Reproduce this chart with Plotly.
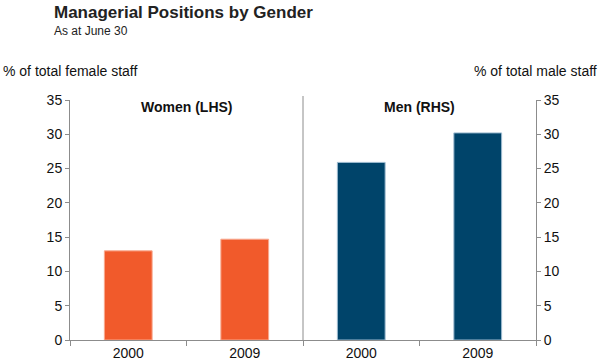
import plotly.graph_objects as go

positions = [0, 1, 2, 3]
tick_labels = ["2000", "2009", "2000", "2009"]
women_x = [0, 1]
women_values = [13.0, 14.7]
men_x = [2, 3]
men_values = [25.9, 30.2]
y_ticks = [0, 5, 10, 15, 20, 25, 30, 35]

FONT = "Liberation Sans, Arial, sans-serif"
ORANGE = "#F15A2B"
NAVY = "#00446A"
GREY = "#8c8c8c"

fig = go.Figure()
fig.add_trace(go.Bar(x=women_x, y=women_values, marker=dict(color=ORANGE, line=dict(color="#F8A88E", width=1)),
                     width=0.41, yaxis="y", showlegend=False, hoverinfo="skip"))
fig.add_trace(go.Bar(x=men_x, y=men_values, marker=dict(color=NAVY, line=dict(color="#9DBBD0", width=1)),
                     width=0.41, yaxis="y2", showlegend=False, hoverinfo="skip"))

axis_common = dict(range=[0, 35], tickvals=y_ticks, ticks="outside", ticklen=4, tickcolor=GREY,
                   showline=True, linecolor=GREY, linewidth=1, showgrid=False, zeroline=False,
                   automargin=False, fixedrange=True,
                   tickfont=dict(family=FONT, size=14, color="#111"))

ML, MR, MT, MB = 70, 64, 100, 20
pw = 600 - ML - MR
ph = 360 - MT - MB

def px_to_paper_x(px):
    return (px - ML) / pw

def px_to_paper_y(py):
    return (360 - MB - py) / ph

fig.update_layout(
    width=600, height=360, autosize=False,
    margin=dict(l=ML, r=MR, t=MT, b=MB, autoexpand=False),
    plot_bgcolor="white", paper_bgcolor="white",
    bargap=0.59,
    xaxis=dict(range=[-0.5, 3.5], tickvals=positions, ticktext=tick_labels, ticks="",
               showline=True, linecolor=GREY, linewidth=1, showgrid=False, zeroline=False,
               automargin=False, fixedrange=True,
               tickfont=dict(family=FONT, size=14, color="#111"),
               minor=dict(tick0=-0.5, dtick=1, ticks="outside", ticklen=5, tickcolor=GREY)),
    yaxis=dict(side="left", **axis_common),
    yaxis2=dict(side="right", overlaying="y", **axis_common),
    shapes=[dict(type="line", xref="x", yref="paper", x0=1.5, x1=1.5, y0=0, y1=px_to_paper_y(96),
                 line=dict(color=GREY, width=1))],
    annotations=[
        dict(text="<b>Managerial Positions by Gender</b>", x=px_to_paper_x(52), y=px_to_paper_y(12),
             xref="paper", yref="paper", xanchor="left", yanchor="middle", showarrow=False,
             font=dict(family=FONT, size=17, color="#222")),
        dict(text="As at June 30", x=px_to_paper_x(52), y=px_to_paper_y(31),
             xref="paper", yref="paper", xanchor="left", yanchor="middle", showarrow=False,
             font=dict(family=FONT, size=12, color="#222")),
        dict(text="% of total female staff", x=px_to_paper_x(1), y=px_to_paper_y(71),
             xref="paper", yref="paper", xanchor="left", yanchor="middle", showarrow=False,
             font=dict(family=FONT, size=14, color="#111")),
        dict(text="% of total male staff", x=px_to_paper_x(599), y=px_to_paper_y(71),
             xref="paper", yref="paper", xanchor="right", yanchor="middle", showarrow=False,
             font=dict(family=FONT, size=14, color="#111")),
        dict(text="<b>Women (LHS)</b>", x=0.5, y=px_to_paper_y(107), xref="x", yref="paper",
             xanchor="center", yanchor="middle", showarrow=False, font=dict(family=FONT, size=14, color="#111")),
        dict(text="<b>Men (RHS)</b>", x=2.5, y=px_to_paper_y(107), xref="x", yref="paper",
             xanchor="center", yanchor="middle", showarrow=False, font=dict(family=FONT, size=14, color="#111")),
    ],
)

fig.write_html("out.html", config={"displayModeBar": False, "responsive": False},
               post_script="document.body.style.margin='0';document.body.style.overflow='hidden';")
